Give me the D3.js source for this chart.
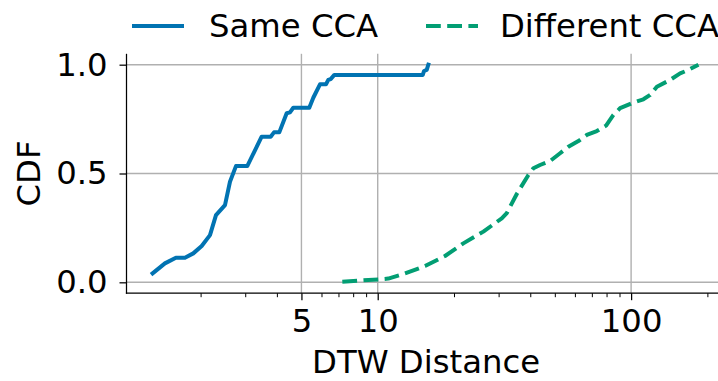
<!DOCTYPE html>
<html>
<head>
<meta charset="utf-8">
<script src="https://cdn.jsdelivr.net/npm/d3@7"></script>
<style>
  html, body { margin: 0; padding: 0; background: #fff; }
  svg { display: block; font-family: "DejaVu Sans", sans-serif; }
</style>
</head>
<body>
<svg id="chart" width="718" height="381"></svg>
<script>
// CDF of DTW distance between flows, same vs. different congestion control
const sameX = [1.293, 1.446, 1.598, 1.735, 1.871, 2.02, 2.178, 2.30, 2.496, 2.612, 2.758, 3.056,
  3.483, 3.781, 3.896, 4.088, 4.372, 4.506, 4.643, 5.37, 5.569, 5.918, 6.25, 6.383, 6.52, 6.742,
  15.06, 15.23, 15.61, 15.84];
const sameY = [0.041, 0.087, 0.113, 0.113, 0.133, 0.167, 0.217, 0.309, 0.355, 0.462, 0.534, 0.534,
  0.669, 0.669, 0.689, 0.689, 0.777, 0.781, 0.802, 0.802, 0.848, 0.910, 0.910, 0.930, 0.934, 0.953,
  0.953, 0.971, 0.976, 1.0];

const diffX = [7.25, 8.77, 10.21, 11.01, 12.82, 15.37, 18.44, 21.77, 26.12, 30.87, 32.31, 35.38,
  39.32, 41.15, 43.72, 47.88, 52.45, 56.55, 61.94, 66.85, 73.21, 79.67, 85.14, 90.49, 100.6,
  111.8, 118.9, 126.4, 142.6, 156.1, 168.4, 184.4];
const diffY = [0.003, 0.009, 0.014, 0.017, 0.041, 0.075, 0.121, 0.179, 0.233, 0.294, 0.318, 0.406,
  0.493, 0.524, 0.539, 0.557, 0.593, 0.623, 0.649, 0.677, 0.695, 0.720, 0.769, 0.800, 0.823,
  0.841, 0.861, 0.899, 0.930, 0.960, 0.976, 1.0];

const seriesNames = ["Same CCA", "Different CCA"];
const seriesColors = ["#0173b2", "#029e73"];

const xMajorTicks = [5, 10, 100];
const xMinorTicks = [2, 3, 4, 6, 7, 8, 9, 20, 30, 40, 50, 60, 70, 80, 90, 200];
const yTicks = [0.0, 0.5, 1.0];

const W = 718, H = 381;
const plot = { left: 126.5, right: 725.6, top: 53.8, bottom: 293.2 };
const FS = 32.3;

const svg = d3.select("#chart");
svg.append("rect").attr("width", W).attr("height", H).attr("fill", "#fff");

const x = d3.scaleLog().domain([1.02, 236]).range([plot.left, plot.right]);
const y = d3.scaleLinear().domain([-0.05, 1.05]).range([plot.bottom, plot.top]);

// grid
const grid = svg.append("g").attr("stroke", "#b0b0b0").attr("stroke-width", 1.4);
grid.selectAll("line.gx").data(xMajorTicks).join("line")
  .attr("x1", d => x(d)).attr("x2", d => x(d))
  .attr("y1", plot.top).attr("y2", plot.bottom);
grid.selectAll("line.gy").data(yTicks).join("line")
  .attr("x1", plot.left).attr("x2", plot.right)
  .attr("y1", d => y(d)).attr("y2", d => y(d));

// series
const line = d3.line().x(d => x(d[0])).y(d => y(d[1]));
const sameData = sameX.map((v, i) => [v, sameY[i]]);
const diffData = diffX.map((v, i) => [v, diffY[i]]);

svg.append("path").datum(diffData)
  .attr("d", line).attr("fill", "none")
  .attr("stroke", seriesColors[1]).attr("stroke-width", 4)
  .attr("stroke-dasharray", "14.8,6.4").attr("stroke-linejoin", "round");

svg.append("path").datum(sameData)
  .attr("d", line).attr("fill", "none")
  .attr("stroke", seriesColors[0]).attr("stroke-width", 4)
  .attr("stroke-linejoin", "round").attr("stroke-linecap", "square");

// axes
const xAxis = d3.axisBottom(x).tickValues(xMajorTicks).tickFormat(d3.format("d"))
  .tickSize(7).tickPadding(9);
const gx = svg.append("g").attr("transform", `translate(0,${plot.bottom})`).call(xAxis);
gx.select(".domain").remove();
gx.selectAll(".tick line").attr("stroke", "#000").attr("stroke-width", 1.25);
gx.selectAll(".tick text").attr("font-size", FS).attr("fill", "#000")
  .attr("font-family", "DejaVu Sans, sans-serif");

const xMinor = d3.axisBottom(x).tickValues(xMinorTicks).tickFormat("").tickSize(4);
const gxm = svg.append("g").attr("transform", `translate(0,${plot.bottom})`).call(xMinor);
gxm.select(".domain").remove();
gxm.selectAll(".tick line").attr("stroke", "#000").attr("stroke-width", 1);

const yAxis = d3.axisLeft(y).tickValues(yTicks).tickFormat(d3.format(".1f"))
  .tickSize(7).tickPadding(12);
const gy = svg.append("g").attr("transform", `translate(${plot.left},0)`).call(yAxis);
gy.select(".domain").remove();
gy.selectAll(".tick line").attr("stroke", "#000").attr("stroke-width", 1.25);
gy.selectAll(".tick text").attr("font-size", FS).attr("fill", "#000")
  .attr("font-family", "DejaVu Sans, sans-serif");

// spines (left and bottom only)
svg.append("line").attr("x1", plot.left).attr("x2", plot.left)
  .attr("y1", plot.top).attr("y2", plot.bottom + 0.6)
  .attr("stroke", "#000").attr("stroke-width", 1.25);
svg.append("line").attr("x1", plot.left - 0.6).attr("x2", plot.right)
  .attr("y1", plot.bottom).attr("y2", plot.bottom)
  .attr("stroke", "#000").attr("stroke-width", 1.25);

// axis titles
svg.append("text").attr("x", (plot.left + plot.right) / 2).attr("y", 373)
  .attr("text-anchor", "middle").attr("font-size", FS).text("DTW Distance");
svg.append("text").attr("transform", `translate(40,${(plot.top + plot.bottom) / 2}) rotate(-90)`)
  .attr("text-anchor", "middle").attr("font-size", FS).text("CDF");

// legend
const legend = svg.append("g");
const legendItems = [
  { name: seriesNames[0], color: seriesColors[0], dash: null, x0: 132, tx: 209 },
  { name: seriesNames[1], color: seriesColors[1], dash: "14.8,6.4", x0: 426, tx: 500 }
];
legendItems.forEach(it => {
  legend.append("line").attr("x1", it.x0).attr("x2", it.x0 + 52)
    .attr("y1", 26).attr("y2", 26)
    .attr("stroke", it.color).attr("stroke-width", 4)
    .attr("stroke-dasharray", it.dash);
  legend.append("text").attr("x", it.tx).attr("y", 37)
    .attr("font-size", FS).text(it.name);
});
</script>
</body>
</html>
